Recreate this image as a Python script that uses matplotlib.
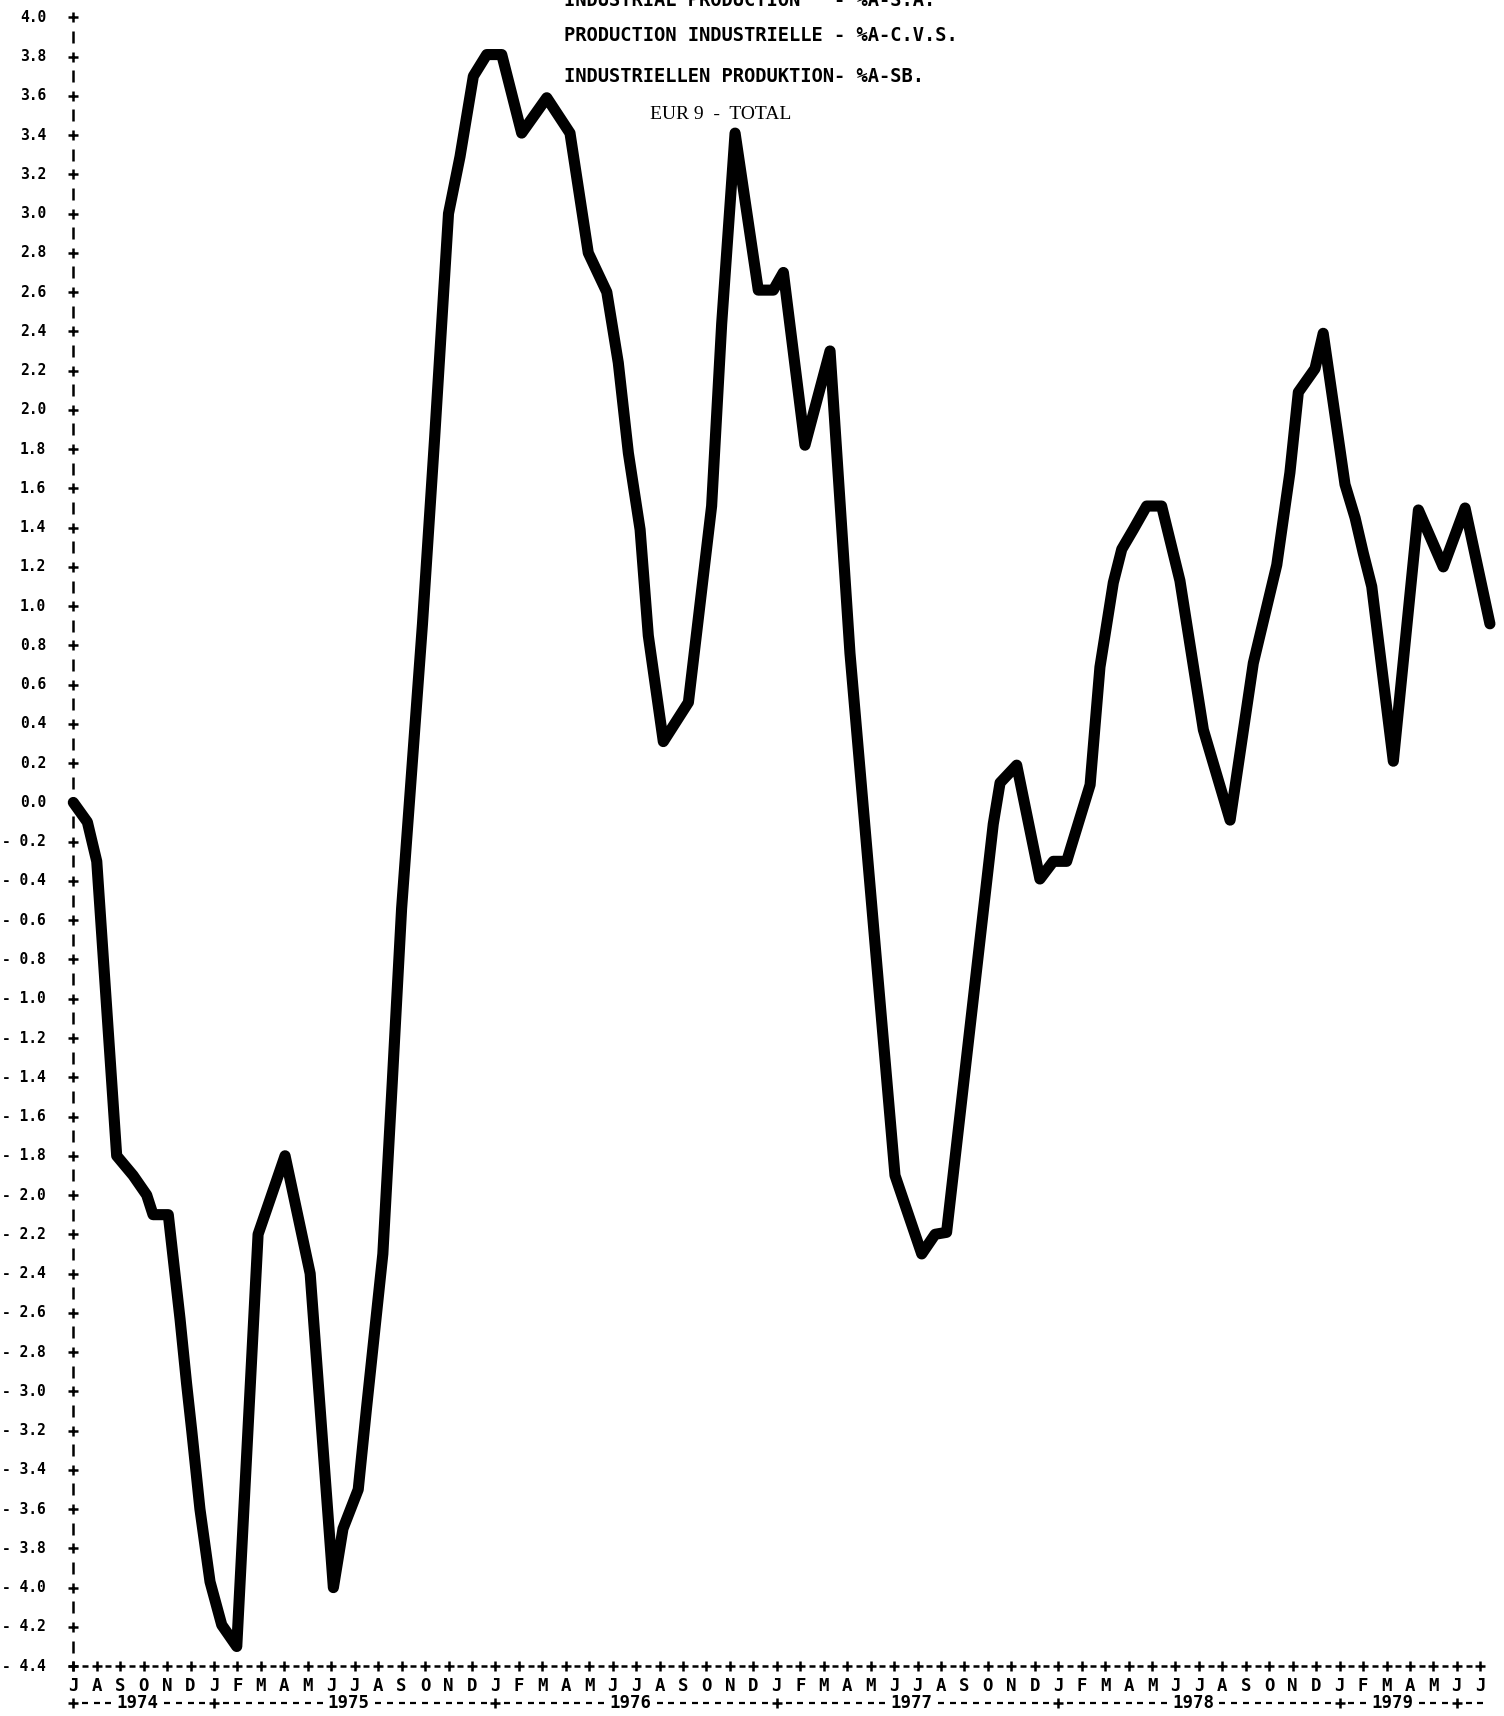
import numpy as np
import matplotlib
matplotlib.use("Agg")
import matplotlib.pyplot as plt

# EUR 9 industrial production, %A (seasonally adjusted), Jul 1974 .. Jul 1979
# x = months since July 1974 (vertices)
MONTH_POS = [0.0, 0.6, 1.0, 1.85, 2.55, 3.13, 3.4, 4.05, 4.55, 4.83, 5.05, 5.4,
             5.83, 6.33, 6.97, 7.88, 9.03, 10.1, 11.09, 11.5, 12.15, 12.5, 13.2,
             13.6, 14.0, 14.89, 15.41, 16.0, 16.49, 17.06, 17.63, 18.27, 19.12,
             20.19, 21.18, 21.96, 22.75, 23.24, 23.67, 24.17, 24.52, 25.16, 26.23,
             27.22, 27.65, 28.22, 29.21, 29.85, 30.28, 31.2, 32.27, 33.12, 35.04,
             36.18, 36.75, 37.24, 39.23, 39.52, 40.23, 41.22, 41.79, 42.36, 43.36,
             43.78, 44.35, 44.71, 45.2, 45.77, 46.41, 47.19, 48.19, 49.33, 50.32,
             51.32, 51.88, 52.24, 52.95, 53.3, 54.23, 54.66, 55.01, 55.37, 56.29,
             57.36, 58.42, 59.35, 60.41]
VALUES = [0.0, -0.1, -0.3, -1.8, -1.9, -2.0, -2.1, -2.1, -2.63, -2.96, -3.2, -3.6,
          -3.97, -4.19, -4.3, -2.2, -1.8, -2.4, -4.0, -3.7, -3.5, -3.09, -2.3,
          -1.43, -0.54, 0.91, 1.86, 3.0, 3.29, 3.7, 3.81, 3.81, 3.41,
          3.59, 3.41, 2.8, 2.6, 2.24, 1.78, 1.39, 0.85, 0.31, 0.51,
          1.51, 2.44, 3.41, 2.61, 2.61, 2.7, 1.82, 2.3, 0.76, -1.9,
          -2.3, -2.2, -2.19, -0.11, 0.1, 0.19, -0.39, -0.3, -0.3, 0.09,
          0.69, 1.12, 1.29, 1.39, 1.51, 1.51, 1.13, 0.37, -0.09, 0.71,
          1.21, 1.68, 2.09, 2.21, 2.39, 1.62, 1.45, 1.27, 1.1, 0.21,
          1.49, 1.2, 1.5, 0.91]

MONTH_LETTERS = list("JASOND") + list("JFMAMJJASOND") * 4 + list("JFMAMJJ")
YEARS = ["1974", "1975", "1976", "1977", "1978", "1979"]
YEAR_CENTERS = [2.75, 11.75, 23.75, 35.75, 47.75, 56.25]
YEAR_SEPS = [0, 6, 18, 30, 42, 54, 59]

TITLE_LINES = ["INDUSTRIAL PRODUCTION   - %A-S.A.",
               "PRODUCTION INDUSTRIELLE - %A-C.V.S.",
               "INDUSTRIELLEN PRODUKTION- %A-SB."]
SUBTITLE = "EUR 9  -  TOTAL"

Y_MIN, Y_MAX, Y_STEP = -4.4, 4.0, 0.2
MONO = "DejaVu Sans Mono"


def ylabel(v):
    s = f"{abs(v):.1f}"
    return f"- {s}" if v < -1e-9 else s


def main():
    fig = plt.figure(figsize=(15.04, 17.16), dpi=100)
    ax = fig.add_axes([0, 0, 1, 1])
    # limits chosen so the printed frame lands where it is on the page
    ax.set_xlim(-3.126, 61.01)
    ax.set_ylim(-4.654, 4.088)
    ax.axis("off")

    # ── line-printer style y axis: '+' every 0.2, 'I' in between ──
    yt = np.round(np.arange(Y_MIN, Y_MAX + 1e-6, Y_STEP), 1)
    ym = np.round(yt[:-1] + Y_STEP / 2, 2)
    ax.plot(np.zeros_like(yt), yt, ls="none", marker="+", ms=6.5, mew=1.8,
            color="black", clip_on=False)
    ax.plot(np.zeros_like(ym), ym, ls="none", marker="|", ms=9, mew=1.8,
            color="black", clip_on=False)
    for v in yt:
        ax.text(-1.16, v, ylabel(v), ha="right", va="center", family=MONO,
                fontsize=10.5, fontweight="bold", color="black")

    # ── x axis: '+' each month, '-' between ──
    xm = np.arange(len(MONTH_LETTERS))
    ax.plot(xm, np.full(len(xm), Y_MIN), ls="none", marker="+", ms=6.5,
            mew=1.8, color="black", clip_on=False)
    ax.plot(xm[:-1] + 0.5, np.full(len(xm) - 1, Y_MIN), ls="none", marker="_",
            ms=5, mew=1.8, color="black", clip_on=False)
    for m, lab in zip(xm, MONTH_LETTERS):
        ax.text(m, -4.50, lab, ha="center", va="center", family=MONO,
                fontsize=12.5, fontweight="bold", color="black")

    # year row: +---1974----+---------1975---------- ...
    y_year = -4.59
    slots = np.arange(0, 60.01, 0.5)
    dash = [s for s in slots
            if s not in YEAR_SEPS and all(abs(s - c) > 1.0 for c in YEAR_CENTERS)]
    ax.plot(dash, np.full(len(dash), y_year), ls="none", marker="_", ms=5,
            mew=1.6, color="black", clip_on=False)
    ax.plot(YEAR_SEPS, np.full(len(YEAR_SEPS), y_year), ls="none", marker="+",
            ms=6.5, mew=1.8, color="black", clip_on=False)
    for c, yr in zip(YEAR_CENTERS, YEARS):
        ax.text(c, y_year, yr, ha="center", va="center", family=MONO,
                fontsize=12.5, fontweight="bold", color="black")

    # ── the series ──
    ax.plot(MONTH_POS, VALUES, color="black", lw=8, solid_joinstyle="round",
            solid_capstyle="round", clip_on=False)

    # ── header (first line runs off the top of the sheet, as printed) ──
    for y, line in zip([4.083, 3.905, 3.696], TITLE_LINES):
        ax.text(20.91, y, line, ha="left", va="center", family=MONO,
                fontsize=13.5, fontweight="bold", color="black")
    ax.text(27.6, 3.507, SUBTITLE, ha="center", va="center",
            family="Liberation Serif", fontsize=14, color="black")

    fig.savefig("out.png", dpi=100, facecolor="white")


if __name__ == "__main__":
    main()
